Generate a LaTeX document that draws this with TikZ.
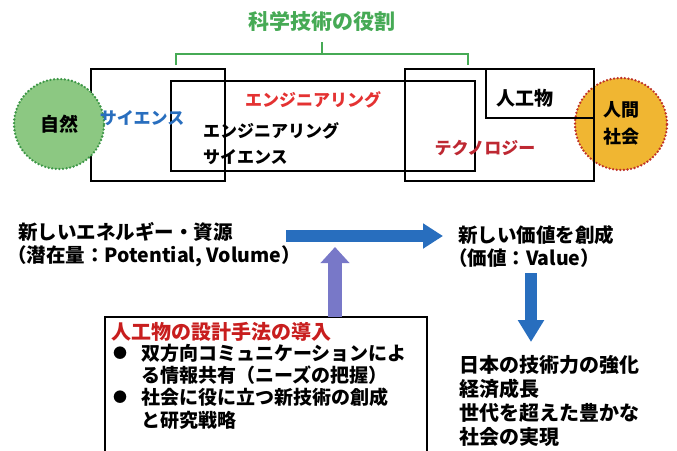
\documentclass[tikz,border=0pt]{standalone}
\usepackage{fontspec}
\setmainfont{Noto Sans CJK JP}
\usetikzlibrary{arrows.meta}
\definecolor{brgreen}{RGB}{70,170,85}
\definecolor{natfill}{RGB}{140,200,130}
\definecolor{natline}{RGB}{60,150,70}
\definecolor{socfill}{RGB}{240,182,50}
\definecolor{socline}{RGB}{190,50,40}
\definecolor{scblue}{RGB}{40,110,190}
\definecolor{engred}{RGB}{228,50,50}
\definecolor{techred}{RGB}{190,40,50}
\definecolor{ttlred}{RGB}{200,30,30}
\definecolor{arrblue}{RGB}{40,110,190}
\definecolor{arrpurple}{RGB}{120,120,200}
\tikzset{
  boxline/.style={draw=black,line width=1.8pt},
  txt/.style={inner sep=0pt,font=\bfseries\fontsize{#1}{#1}\selectfont},
  txt/.default=19,
  bigarrow/.style={line width=12pt,arrblue},
  dotring/.style={draw=#1,line width=2.6pt,line cap=round,dash pattern=on 0pt off 3.6pt},
}
\begin{document}
\begin{tikzpicture}[x=1pt,y=-1pt]
\useasboundingbox (0,0) rectangle (677,450);
\clip (0,0) rectangle (677,450);
% title and bracket
\node[txt=21,text=brgreen] (title) at (322,22) {科学技術の役割};
\coordinate (bl) at (176,65);
\coordinate (br) at (468,65);
\coordinate (bm) at (322,42);
\draw[brgreen,line width=1.8pt] (bl) -- (176,54) -- (468,54) -- (br);
\draw[brgreen,line width=1.8pt] (322,54) -- (bm);
% right circle (behind boxes)
\node[circle,fill=socfill,dotring=socline,minimum size=92pt] (soc) at (621,124) {};
% boxes
\draw[boxline] (91,69) rectangle (225,181);
\draw[boxline] (171,81) rectangle (475,171);
\draw[boxline] (405,69) rectangle (594,181);
\draw[boxline] (486,69) rectangle (594,118);
% left circle (in front)
\node[circle,fill=natfill,dotring=natline,minimum size=90pt] (nat) at (59,124) {};
\node[txt=19] (natt) at (nat) {自然};
\node[txt=18] (soc1) at (621,110) {人間};
\node[txt=18] (soc2) at (621,137) {社会};
% box labels
\node[txt=17,text=scblue] (sci) at (142,118) {サイエンス};
\node[txt=17,text=engred] (eng) at (313,100) {エンジニアリング};
\node[txt=17,anchor=west] (es1) at (203,131) {エンジニアリング};
\node[txt=17,anchor=west] (es2) at (203,157) {サイエンス};
\node[txt=17,text=techred] (tech) at (485,148) {テクノロジー};
\node[txt=19] (art) at (525,98) {人工物};
% lower texts
\node[txt=19.5,anchor=west] (res1) at (18,232) {新しいエネルギー・資源};
\node[txt=19.5,anchor=west] (res2) at (7,256) {（潜在量：Potential, Volume）};
\node[txt=19.5,anchor=west] (val1) at (458,235) {新しい価値を創成};
\node[txt=19.5,anchor=west] (val2) at (448,258) {（価値：Value）};
\node[txt=20,anchor=west] (r1) at (459,365) {日本の技術力の強化};
\node[txt=20,anchor=west] (r2) at (459,389) {経済成長};
\node[txt=20,anchor=west] (r3) at (459,413) {世代を超えた豊かな};
\node[txt=20,anchor=west] (r4) at (459,437) {社会の実現};
% method box
\draw[line width=1.5pt] (105,460) -- (105,317) -- (427,317) -- (427,460);
\coordinate (boxtop) at (335,317);
\node[txt=20,anchor=west,text=ttlred] (mt) at (111,332) {人工物の設計手法の導入};
\node[txt=14] (b1) at (120,353) {●};
\node[txt=19,anchor=west] (m1) at (141,353) {双方向コミュニケーションによ};
\node[txt=19,anchor=west] (m2) at (141,375) {る情報共有（ニーズの把握）};
\node[txt=14] (b2) at (120,397) {●};
\node[txt=19,anchor=west] (m3) at (141,397) {社会に役に立つ新技術の創成};
\node[txt=19,anchor=west] (m4) at (141,420) {と研究戦略};
% arrows
\coordinate (h1) at (286,236);
\coordinate (h2) at (443,236);
\draw[bigarrow,-{Triangle[width=24pt,length=20pt]}] (h1) -- (h2);
\coordinate (p2) at (335,247);
\draw[line width=14pt,arrpurple,-{Triangle[width=28pt,length=16pt]}] (boxtop) -- (p2);
\coordinate (d1) at (531,273);
\coordinate (d2) at (531,342);
\draw[bigarrow,-{Triangle[width=25pt,length=22pt]}] (d1) -- (d2);
\end{tikzpicture}
\end{document}
